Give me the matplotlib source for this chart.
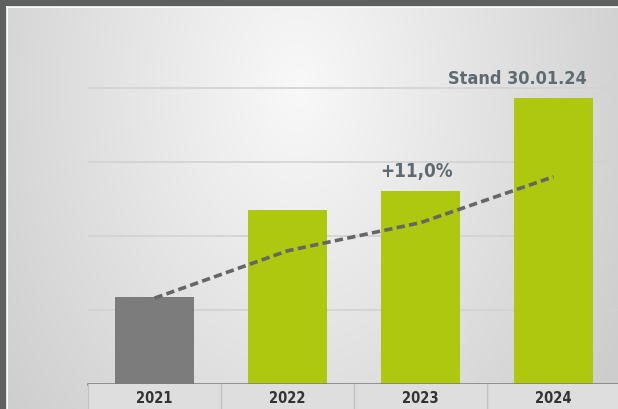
import numpy as np
import matplotlib
matplotlib.use("Agg")
import matplotlib.pyplot as plt

years = ["2021", "2022", "2023", "2024"]
bar_values = [1.18, 2.35, 2.61, 3.86]
trend_values = [1.16, 1.80, 2.18, 2.80]
bar_colors = ["#7c7c7c", "#adc80e", "#adc80e", "#adc80e"]
growth_label = "+11,0%"
stand_label = "Stand 30.01.24"

W, H = 618, 409
fig = plt.figure(figsize=(W / 100, H / 100), dpi=100)
fig.patch.set_facecolor("#5e5f5f")

plt.rcParams['font.family'] = ['DejaVu Sans']

# light panel with soft gradient
bg = fig.add_axes([7 / W, 0, (W - 7) / W, (H - 7) / H])
bg.axis("off")
gx = np.linspace(-1, 1, 300)
gy = np.linspace(-1, 1, 200)
X, Y = np.meshgrid(gx, gy)
r = np.sqrt(((X + 0.05) / 1.0) ** 2 + ((Y - 0.6) / 2.2) ** 2)
shade = 0.975 - 0.14 * np.clip(r, 0, 1.2)
bg.imshow(np.dstack([shade] * 3), extent=[0, 1, 0, 1], aspect="auto", origin="lower")
bg.set_xlim(0, 1)
bg.set_ylim(0, 1)
# thin white inner edge
fig.add_artist(plt.Line2D([7 / W, 7 / W], [0, (H - 7) / H], color="white", lw=1.2))
fig.add_artist(plt.Line2D([7 / W, 1], [(H - 7) / H, (H - 7) / H], color="white", lw=1.2))

# main plot area
base = 384
ax = fig.add_axes([88 / W, (H - base) / H, 532 / W, (base - 8) / H])
ax.patch.set_alpha(0)
x = np.arange(len(years))
ax.set_xlim(-0.5, 3.5)
ax.set_ylim(0, (base - 8) / 74.0)
for g in [1, 2, 3, 4]:
    ax.axhline(g, color="#d2d2d2", lw=1.2, zorder=1)
ax.bar(x, bar_values, width=0.6, color=bar_colors, zorder=2)
ax.plot(x, trend_values, color="#666666", lw=2.6, ls=(0, (2.3, 1.2)), zorder=3)
ax.text(2 - 0.03, bar_values[2] + 0.14, growth_label, ha="center", va="bottom",
        fontsize=13.5, fontweight="bold", fontstretch="condensed", color="#5f6b73")
ax.text(3 - 0.27, bar_values[3] + 0.14, stand_label, ha="center", va="bottom",
        fontsize=13, fontweight="bold", fontstretch="condensed", color="#5f6b73")
ax.axhline(0, color="#7a7a7a", lw=1.8, zorder=4, clip_on=False)
ax.set_xticks([])
ax.set_yticks([])
for s in ax.spines.values():
    s.set_visible(False)

# year label strip
strip = fig.add_axes([88 / W, 0, 532 / W, (H - base) / H])
strip.set_facecolor("#dedede")
strip.set_xlim(-0.5, 3.5)
strip.set_ylim(0, 1)
for sep in [-0.5, 0.5, 1.5, 2.5]:
    strip.axvline(sep, color="#c4c4c4", lw=1)
for i, yr in enumerate(years):
    strip.text(i, 0.42, yr, ha="center", va="center", fontsize=10.5,
               fontweight="bold", fontstretch="condensed", color="#333333")
strip.set_xticks([])
strip.set_yticks([])
for s in strip.spines.values():
    s.set_visible(False)

fig.savefig("out.png", dpi=100)
